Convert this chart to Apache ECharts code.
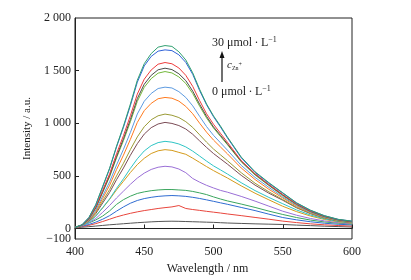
<!DOCTYPE html>
<html>
<head>
<meta charset="utf-8">
<script src="https://cdn.jsdelivr.net/npm/echarts@6/dist/echarts.min.js"></script>
<style>
  html, body { margin: 0; padding: 0; background: #fff; }
  #chart { width: 411px; height: 280px; }
</style>
</head>
<body>
<div id="chart"></div>
<script>
// wavelength grid (nm)
const wavelengths = [400, 405, 410, 415, 420, 425, 430, 435, 440, 445, 450, 455, 460, 465, 470, 475,
  480, 485, 490, 495, 500, 505, 510, 520, 530, 540, 550, 560, 570, 580, 590, 600];

// emission intensity, one curve per Zn2+ concentration (0 .. 30 umol/L)
const conc0 = [8, 12, 17, 23, 29, 35, 40, 45, 50, 55, 59, 63, 66, 68, 69, 68,
  66, 64, 62, 60, 58, 55, 52, 48, 44, 41, 38, 32, 27, 22, 18, 14];
const conc2 = [10, 18, 30, 46, 66, 88, 110, 128, 144, 158, 170, 180, 190, 198, 205, 218,
  190, 180, 172, 163, 155, 147, 138, 122, 105, 88, 70, 56, 44, 35, 28, 23];
const conc4 = [12, 22, 38, 60, 88, 122, 165, 205, 240, 266, 284, 296, 305, 310, 313, 310,
  305, 296, 285, 272, 258, 244, 230, 200, 170, 136, 104, 82, 64, 50, 40, 34];
const conc6 = [15, 30, 52, 81, 118, 167, 229, 274, 307, 333, 348, 359, 366, 370, 370, 366,
  362, 352, 338, 322, 300, 280, 262, 232, 200, 165, 133, 104, 80, 62, 50, 42];
const conc8 = [9, 24, 53, 95, 154, 219, 290, 355, 420, 479, 526, 561, 582, 591, 585, 565,
  530, 475, 440, 410, 385, 362, 345, 305, 260, 212, 164, 126, 95, 72, 55, 45];
const conc10 = [11, 30, 67, 120, 195, 277, 367, 449, 532, 607, 667, 712, 738, 749, 742, 723,
  705, 668, 628, 588, 550, 515, 480, 405, 335, 272, 211, 160, 118, 86, 63, 50];
const conc12 = [8, 25, 58, 116, 199, 282, 381, 472, 571, 662, 737, 787, 816, 828, 820, 803,
  775, 735, 688, 640, 595, 557, 518, 435, 360, 295, 235, 176, 128, 92, 67, 53];
const conc14 = [10, 30, 71, 141, 242, 343, 464, 575, 696, 806, 897, 958, 993, 1008, 998, 978,
  945, 895, 832, 770, 712, 662, 612, 505, 412, 335, 268, 196, 141, 100, 72, 56];
const conc16 = [11, 33, 76, 152, 261, 370, 500, 620, 750, 870, 967, 1033, 1071, 1087, 1076, 1054,
  1015, 960, 890, 820, 755, 700, 645, 530, 430, 348, 275, 200, 144, 102, 73, 57];
const conc18 = [7, 25, 75, 162, 286, 411, 560, 697, 847, 1008, 1120, 1189, 1233, 1245, 1238, 1210,
  1160, 1090, 1000, 915, 840, 775, 710, 575, 465, 372, 290, 210, 150, 105, 75, 58];
const conc20 = [8, 27, 81, 175, 309, 443, 604, 752, 913, 1088, 1209, 1283, 1330, 1343, 1335, 1300,
  1245, 1165, 1065, 968, 885, 815, 745, 600, 485, 390, 300, 218, 154, 108, 77, 60];
const conc22 = [9, 30, 89, 194, 343, 492, 671, 835, 1014, 1208, 1342, 1424, 1476, 1491, 1478, 1440,
  1378, 1282, 1162, 1050, 955, 875, 797, 633, 508, 408, 312, 226, 160, 112, 80, 62];
const conc24 = [9, 30, 91, 198, 350, 503, 685, 853, 1036, 1234, 1371, 1455, 1508, 1523, 1510, 1470,
  1405, 1305, 1180, 1065, 965, 885, 805, 640, 515, 413, 318, 230, 163, 115, 82, 64];
const conc26 = [9, 32, 95, 205, 363, 520, 710, 883, 1072, 1277, 1419, 1506, 1561, 1577, 1565, 1525,
  1455, 1350, 1215, 1090, 990, 905, 820, 645, 520, 418, 323, 233, 166, 117, 84, 66];
const conc28 = [10, 34, 103, 224, 395, 568, 775, 962, 1168, 1390, 1545, 1635, 1685, 1697, 1690, 1650,
  1578, 1465, 1310, 1175, 1062, 965, 862, 672, 533, 430, 336, 241, 172, 121, 86, 69];
const conc30 = [10, 35, 104, 226, 400, 574, 783, 974, 1183, 1409, 1566, 1662, 1723, 1738, 1730, 1679,
  1601, 1479, 1322, 1183, 1070, 974, 870, 679, 539, 435, 339, 244, 174, 122, 87, 70];

const curves = [conc0, conc2, conc4, conc6, conc8, conc10, conc12, conc14,
  conc16, conc18, conc20, conc22, conc24, conc26, conc28, conc30];
const colors = ['#555555', '#e8453c', '#2e6bd1', '#3aa55d', '#9a6fd6', '#d49a1a', '#2ec4c4', '#7a4b55',
  '#9a9a35', '#ff7a1e', '#5c9ae0', '#73b83a', '#4a4a4a', '#ee3b3b', '#2f62d8', '#30a070'];

const xTicks = [400, 450, 500, 550, 600];
const yTicks = [0, 500, 1000, 1500, 2000];
const yMinTick = [-100];

const serif = "'Liberation Serif', 'Times New Roman', serif";

const chart = echarts.init(document.getElementById('chart'));

const supStyle = { fontSize: 8, verticalAlign: 'top', padding: [0, 0, 6, 0], fontFamily: serif, fill: '#222' };

function fmtY(v) {
  if (v < 0) return '\u2212' + Math.abs(v);
  return v >= 1000 ? String(v).replace(/(\d)(\d{3})$/, '$1 $2') : String(v);
}

const option = {
  animation: false,
  textStyle: { fontFamily: serif },
  grid: {
    left: 75, right: 59, top: 18, bottom: 41,
    show: true, borderColor: '#222', borderWidth: 1
  },
  xAxis: {
    type: 'value',
    min: 400, max: 600, interval: 50,
    name: 'Wavelength / nm',
    nameLocation: 'middle',
    nameGap: 24,
    nameTextStyle: { fontFamily: serif, fontSize: 12, color: '#222', padding: [0, 12, 0, 0] },
    axisLine: { lineStyle: { color: '#222', width: 1 } },
    axisTick: { inside: true, length: 4, lineStyle: { color: '#222' }, customValues: xTicks },
    axisLabel: { fontFamily: serif, fontSize: 12, color: '#222', margin: 7, customValues: xTicks },
    splitLine: { show: false }
  },
  yAxis: [
    {
      type: 'value',
      min: -100, max: 2000,
      name: 'Intensity / a.u.',
      nameLocation: 'middle',
      nameGap: 32,
      nameTextStyle: { fontFamily: serif, fontSize: 11, color: '#222' },
      axisLine: { show: true, lineStyle: { color: '#222', width: 1 } },
      axisTick: { inside: true, length: 4, lineStyle: { color: '#222' }, customValues: [0, 500, 1000, 1500] },
      axisLabel: {
        fontFamily: serif, fontSize: 12, color: '#222', margin: 4,
        customValues: yTicks, formatter: fmtY
      },
      splitLine: { show: false }
    },
    {
      type: 'value',
      position: 'left',
      min: -100, max: 2000,
      axisLine: { show: false },
      axisTick: { show: false },
      axisLabel: {
        fontFamily: serif, fontSize: 12, color: '#222', margin: 4,
        customValues: yMinTick, formatter: fmtY
      },
      splitLine: { show: false }
    }
  ],
  series: curves.map(function (vals, i) {
    return {
      type: 'line',
      name: (i * 2) + ' \u03bcmol/L',
      yAxisIndex: 0,
      data: wavelengths.map(function (w, j) { return [w, vals[j]]; }),
      symbol: 'none',
      smooth: false,
      lineStyle: { width: 1, color: colors[i] },
      itemStyle: { color: colors[i] },
      z: 2 + i
    };
  }),
  graphic: [
    {
      type: 'text', left: 212, top: 36, z: 100,
      style: {
        text: '30 \u03bcmol\u2009\u00b7\u2009L{sup|\u22121}',
        font: '12px ' + serif, fill: '#222',
        rich: { sup: supStyle }
      }
    },
    {
      type: 'text', left: 212, top: 85, z: 100,
      style: {
        text: '0 \u03bcmol\u2009\u00b7\u2009L{sup|\u22121}',
        font: '12px ' + serif, fill: '#222',
        rich: { sup: supStyle }
      }
    },
    {
      type: 'text', left: 227, top: 60, z: 100,
      style: {
        text: '{c|c}{sub|Zn}{sup|+}',
        rich: {
          c: { fontSize: 11, fontStyle: 'italic', fontFamily: serif, fill: '#222' },
          sub: { fontSize: 6, fontFamily: serif, fill: '#222', padding: [6, 0, 0, 0] },
          sup: { fontSize: 6, fontFamily: serif, fill: '#222', padding: [0, 0, 2, 0] }
        }
      }
    },
    {
      type: 'line', z: 100,
      shape: { x1: 222, y1: 82, x2: 222, y2: 56 },
      style: { stroke: '#111', lineWidth: 1.2 }
    },
    {
      type: 'polygon', z: 100,
      shape: { points: [[222, 51], [219.5, 58], [224.5, 58]] },
      style: { fill: '#111' }
    }
  ]
};

chart.setOption(option);
</script>
</body>
</html>
